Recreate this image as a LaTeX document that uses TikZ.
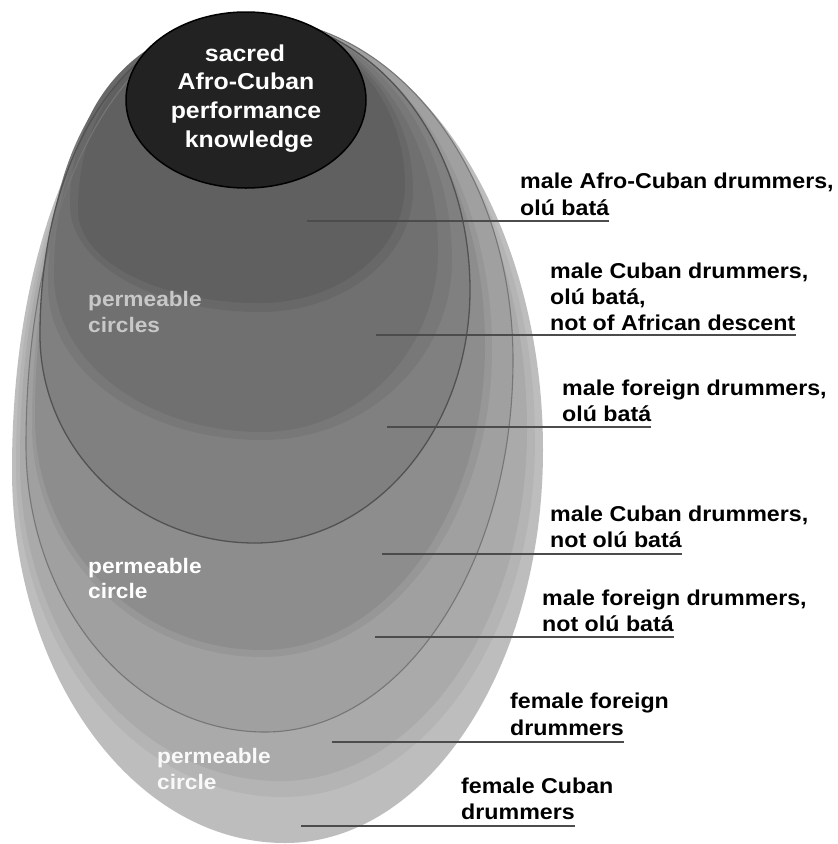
\documentclass[tikz,border=0pt]{standalone}
\usepackage{fontspec}
\setmainfont{Liberation Sans}[FakeStretch=1.08]
\definecolor{gO}{HTML}{BDBDBD}
\definecolor{gbe}{HTML}{B4B4B4}
\definecolor{gbs}{HTML}{AAAAAA}
\definecolor{gst}{HTML}{A0A0A0}
\definecolor{gbx}{HTML}{979797}
\definecolor{gbf}{HTML}{8D8D8D}
\definecolor{gso}{HTML}{808080}
\definecolor{gbq}{HTML}{787878}
\definecolor{gbt}{HTML}{707070}
\definecolor{gbw}{HTML}{686868}
\definecolor{gbo}{HTML}{606060}
\definecolor{strkone}{HTML}{525252}
\definecolor{strktwo}{HTML}{767676}
\definecolor{corefill}{HTML}{222222}
\definecolor{ulcol}{HTML}{4C4C4C}
\definecolor{permgrey}{HTML}{C8C8C8}
\newcommand{\eggshape}[9]{%
\path[#1] (#2,#3)
 .. controls ({#2+\kTR*(#4-#2)},#3) and (#4,{#5-\kTR*(#5-#3)}) .. (#4,#5)
 .. controls (#4,{#5+\kk*(#7-#5)}) and ({#6+\kk*(#4-#6)},#7) .. (#6,#7)
 .. controls ({#6-\kk*(#6-#8)},#7) and (#8,{#9+\kk*(#7-#9)}) .. (#8,#9)
 .. controls (#8,{#9-\kUL*(#9-#3)}) and ({#2-\kUL*(#2-#8)},#3) .. (#2,#3) -- cycle;}
\tikzset{
  lbl/.style={anchor=base west, inner sep=0pt, font=\fontsize{21.5}{26}\selectfont\bfseries, text=black},
  corelbl/.style={anchor=base, inner sep=0pt, font=\fontsize{23}{28}\selectfont\bfseries, text=white},
  permlbl/.style={anchor=base west, inner sep=0pt, font=\fontsize{21}{26}\selectfont\bfseries},
  uline/.style={draw=ulcol, line width=1.6pt},
}
\begin{document}
\begin{tikzpicture}[x=1pt,y=-1pt]
\useasboundingbox (0,0) rectangle (838,844);
\fill[white] (0,0) rectangle (838,844);
\def\kk{0.5523}\def\kTR{0.5523}\def\kUL{0.58}
% nested egg-shaped circles, outermost first
\eggshape{fill=gO}{250}{18}{543}{450}{285}{843}{12}{470}
\eggshape{fill=gbe}{250}{18}{535}{440}{283}{797}{16}{466}
\eggshape{fill=gbs}{250}{18}{527}{430}{280}{781}{20}{460}
\eggshape{fill=gst}{250}{18}{513}{360}{265}{732}{26}{445}
\eggshape{fill=gbx}{250}{18}{492}{350}{262}{657}{32}{425}
\eggshape{fill=gbf}{250}{18}{485}{345}{262}{650}{35}{418}
\eggshape{fill=gso}{250}{18}{470}{290}{255}{543}{40}{335}
\eggshape{fill=gbq}{250}{18}{452}{260}{262}{440}{48}{285}
\eggshape{fill=gbt}{250}{18}{438}{250}{262}{432}{54}{275}
\eggshape{fill=gbw}{248}{20}{413}{190}{260}{312}{70}{205}
\eggshape{fill=gbo}{248}{20}{405}{185}{260}{303}{78}{210}
% permeable circle outlines
\eggshape{draw=strktwo, line width=1.1pt}{250}{18}{513}{360}{265}{732}{26}{445}
\eggshape{draw=strkone, line width=1.3pt}{250}{18}{470}{290}{255}{543}{40}{335}
% permeable labels
\node[permlbl, text=permgrey] (pmA1) at (88,306) {permeable};
\node[permlbl, text=permgrey] (pmA2) at (88,332) {circles};
\node[permlbl, text=white] (pmB1) at (88,573) {permeable};
\node[permlbl, text=white] (pmB2) at (88,598) {circle};
\node[permlbl, text=white!95!gray] (pmC1) at (157,763) {permeable};
\node[permlbl, text=white!95!gray] (pmC2) at (157,789) {circle};
% core
\draw[fill=corefill, draw=black, line width=1.5pt] (246,100) ellipse [x radius=120, y radius=88];
\node[corelbl] (core1) at (245,61) {sacred};
\node[corelbl] (core2) at (246,89) {Afro-Cuban};
\node[corelbl] (core3) at (246,118) {performance};
\node[corelbl] (core4) at (249,147) {knowledge};
% labels
\node[lbl] (la1) at (520,188) {male Afro-Cuban drummers,};
\node[lbl] (la2) at (520,215) {olú batá};
\node[lbl] (lb1) at (550,278) {male Cuban drummers,};
\node[lbl] (lb2) at (550,304) {olú batá,};
\node[lbl] (lb3) at (550,330) {not of African descent};
\node[lbl] (lc1) at (562,395) {male foreign drummers,};
\node[lbl] (lc2) at (562,421) {olú batá};
\node[lbl] (ld1) at (550,521) {male Cuban drummers,};
\node[lbl] (ld2) at (550,547) {not olú batá};
\node[lbl] (le1) at (542,605) {male foreign drummers,};
\node[lbl] (le2) at (542,631) {not olú batá};
\node[lbl] (lf1) at (510,708) {female foreign};
\node[lbl] (lf2) at (510,735) {drummers};
\node[lbl] (lg1) at (461,793) {female Cuban};
\node[lbl] (lg2) at (461,819) {drummers};
% leader lines
\coordinate (ua) at (307,221);
\coordinate (ub) at (376,335);
\coordinate (uc) at (387,427);
\coordinate (ud) at (382,554);
\coordinate (ue) at (375,637);
\coordinate (uf) at (332,742);
\coordinate (ug) at (301,826);
\draw[uline] (ua) -- (ua -| la2.east);
\draw[uline] (ub) -- (ub -| lb3.east);
\draw[uline] (uc) -- (uc -| lc2.east);
\draw[uline] (ud) -- (ud -| ld2.east);
\draw[uline] (ue) -- (ue -| le2.east);
\draw[uline] (uf) -- (uf -| lf2.east);
\draw[uline] (ug) -- (ug -| lg2.east);
\end{tikzpicture}
\end{document}
